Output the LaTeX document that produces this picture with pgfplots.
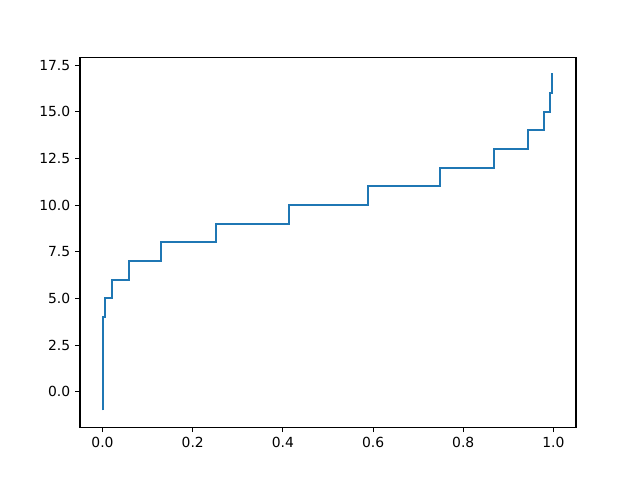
\documentclass[border=0pt]{standalone}
\usepackage{fontspec}
\setmainfont{DejaVu Sans}
\usepackage{pgfplots}
\pgfplotsset{compat=1.18}
\definecolor{mplblue}{HTML}{1F77B4}
\begin{document}
\begin{tikzpicture}
\useasboundingbox (-57.6pt,-38.0pt) rectangle (403.2pt,307.6pt);
\begin{axis}[
  at={(0,0)}, anchor=south west,
  scale only axis,
  width=357.1pt, height=266.1pt,
  xmin=-0.05, xmax=1.05,
  ymin=-1.9, ymax=17.9,
  xtick={0,0.2,0.4,0.6,0.8,1.0},
  ytick={0,2.5,5,7.5,10,12.5,15,17.5},
  /pgf/number format/assume math mode=true,
  xticklabel style={/pgf/number format/fixed,/pgf/number format/fixed zerofill,/pgf/number format/precision=1},
  yticklabel style={/pgf/number format/fixed,/pgf/number format/fixed zerofill,/pgf/number format/precision=1},
  tick label style={font=\fontsize{10}{12}\selectfont},
  tick align=outside,
  major tick length=3.5pt,
  every tick/.style={black, line width=0.8pt},
  axis line style={line width=0.8pt},
  xtick pos=bottom, ytick pos=left,
  grid=none,
]
\addplot[mplblue, line width=1.5pt, line join=miter] coordinates {
(0,-1) (0,4) (0.005,4) (0.005,5) (0.020,5) (0.020,6) (0.058,6) (0.058,7)
(0.130,7) (0.130,8) (0.252,8) (0.252,9) (0.413,9) (0.413,10)
(0.589,10) (0.589,11) (0.748,11) (0.748,12) (0.869,12) (0.869,13)
(0.943,13) (0.943,14) (0.980,14) (0.980,15) (0.993,15) (0.993,16)
(0.997,16) (0.997,17) (1.0,17)
};
\end{axis}
\end{tikzpicture}
\end{document}
